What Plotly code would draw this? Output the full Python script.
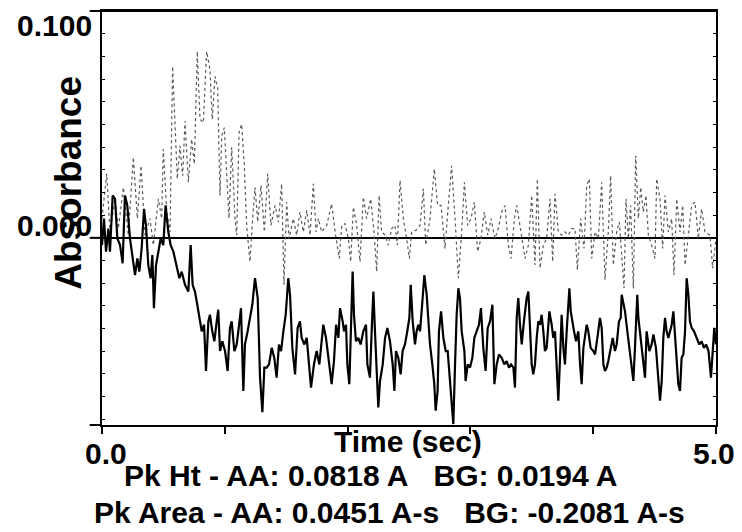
import plotly.graph_objects as go

# ---- data ----
aa_time = [0.000, 0.038, 0.065, 0.106, 0.133, 0.174, 0.214, 0.255, 0.288, 0.318, 0.350, 0.391, 0.418, 0.459,
           0.486, 0.499, 0.527, 0.554, 0.575, 0.613, 0.635, 0.657, 0.676, 0.703, 0.730, 0.752, 0.776, 0.798,
           0.825, 0.852, 0.879, 0.898, 0.920, 0.942, 0.961, 0.975, 0.996, 1.015, 1.034, 1.056, 1.083, 1.097,
           1.116, 1.137, 1.159, 1.178, 1.205, 1.227, 1.246, 1.268, 1.295, 1.322, 1.349, 1.376, 1.409, 1.436,
           1.463, 1.482, 1.504, 1.523, 1.558, 1.585, 1.612, 1.640, 1.667, 1.694, 1.721, 1.743, 1.762, 1.789,
           1.830, 1.870, 1.906, 1.933, 1.952, 1.979, 2.006, 2.025, 2.047, 2.074, 2.101, 2.128, 2.155, 2.188,
           2.215, 2.237, 2.256, 2.277, 2.305, 2.332, 2.359, 2.386, 2.405, 2.427, 2.454, 2.481, 2.503, 2.522,
           2.557, 2.590, 2.617, 2.636, 2.671, 2.706, 2.733, 2.761, 2.793, 2.820, 2.847, 2.875, 2.902, 2.929,
           2.951, 2.978, 3.005, 3.032, 3.059, 3.086, 3.113, 3.141, 3.168, 3.200, 3.227, 3.255, 3.282, 3.309,
           3.331, 3.358, 3.377, 3.412, 3.445, 3.472, 3.499, 3.526, 3.545, 3.567, 3.594, 3.621, 3.648, 3.670,
           3.689, 3.716, 3.743, 3.770, 3.797, 3.825, 3.852, 3.871, 3.898, 3.925, 3.947, 3.969, 3.988, 4.015,
           4.042, 4.069, 4.096, 4.123, 4.142, 4.164, 4.191, 4.213, 4.251, 4.267, 4.286, 4.305, 4.327, 4.346,
           4.368, 4.387, 4.408, 4.430, 4.449, 4.476, 4.503, 4.517, 4.544, 4.566, 4.585, 4.612, 4.639, 4.658,
           4.680, 4.707, 4.729, 4.748, 4.775, 4.802, 4.829, 4.856, 4.883, 4.910, 4.951, 4.973, 5.000]
aa_abs = [0.0085, 0.0282, 0.0026, 0.0172, 0.0041, 0.0223, 0.0012, 0.0355, 0.0085, 0.0318, 0.0012, 0.0085, -0.0032,
          0.0172, 0.0085, 0.0391, 0.0114, 0.0026, 0.0756, 0.0260, 0.0406, 0.0274, 0.0515, 0.0245, 0.0435, 0.0326,
          0.0822, 0.0523, 0.0508, 0.0822, 0.0742, 0.0523, 0.0712, 0.0661, 0.0187, 0.0450, 0.0486, 0.0289, 0.0085,
          0.0399, 0.0085, 0.0012, 0.0464, 0.0501, 0.0318, 0.0055, -0.0105, 0.0085, 0.0223, 0.0070, 0.0231, 0.0026,
          0.0282, 0.0055, 0.0143, 0.0070, 0.0238, -0.0207, 0.0158, -0.0003, 0.0085, 0.0012, 0.0114, 0.0026, 0.0121,
          0.0012, 0.0238, 0.0026, 0.0085, 0.0026, 0.0055, 0.0150, -0.0003, -0.0091, 0.0055, 0.0063, -0.0003,
          -0.0105, 0.0136, 0.0055, -0.0105, 0.0180, 0.0085, 0.0172, 0.0026, -0.0149, 0.0187, 0.0026, 0.0012,
          -0.0032, 0.0041, 0.0055, -0.0032, 0.0253, 0.0085, -0.0003, -0.0091, 0.0026, 0.0034, 0.0055, 0.0216,
          -0.0032, 0.0085, 0.0304, 0.0143, 0.0143, -0.0047, 0.0143, 0.0318, 0.0085, -0.0178, 0.0026, 0.0245,
          0.0055, 0.0085, 0.0158, -0.0061, -0.0003, 0.0114, 0.0012, 0.0085, -0.0003, 0.0041, 0.0114, 0.0143,
          -0.0032, -0.0091, 0.0085, 0.0143, 0.0026, -0.0091, -0.0032, 0.0187, -0.0120, 0.0260, -0.0134, -0.0032,
          -0.0003, 0.0172, -0.0105, 0.0194, 0.0026, 0.0012, 0.0026, 0.0012, 0.0041, 0.0041, -0.0142, 0.0085,
          -0.0047, 0.0231, 0.0260, -0.0091, 0.0026, -0.0003, 0.0245, -0.0185, 0.0026, 0.0274, -0.0120, 0.0026,
          0.0070, -0.0222, 0.0172, -0.0003, 0.0143, -0.0222, 0.0362, 0.0085, 0.0223, 0.0114, 0.0187, 0.0012,
          -0.0032, -0.0091, 0.0260, 0.0172, -0.0047, 0.0187, 0.0026, 0.0085, -0.0164, 0.0172, 0.0026, 0.0143,
          -0.0120, 0.0012, 0.0143, 0.0158, -0.0003, 0.0128, 0.0026, 0.0012, -0.0134, -0.0003]

bg_time = [0.000, 0.016, 0.033, 0.052, 0.065, 0.087, 0.106, 0.125, 0.147, 0.168, 0.187, 0.206, 0.228, 0.255,
           0.269, 0.288, 0.304, 0.323, 0.342, 0.358, 0.377, 0.396, 0.410, 0.423, 0.440, 0.459, 0.478, 0.499,
           0.518, 0.540, 0.559, 0.581, 0.608, 0.630, 0.649, 0.676, 0.703, 0.722, 0.738, 0.757, 0.776, 0.793,
           0.812, 0.831, 0.847, 0.866, 0.879, 0.898, 0.915, 0.934, 0.947, 0.961, 0.980, 1.002, 1.023, 1.042,
           1.056, 1.078, 1.097, 1.110, 1.132, 1.151, 1.164, 1.186, 1.205, 1.224, 1.246, 1.268, 1.287, 1.306,
           1.322, 1.341, 1.360, 1.382, 1.403, 1.422, 1.441, 1.458, 1.477, 1.496, 1.517, 1.531, 1.550, 1.572,
           1.593, 1.612, 1.626, 1.648, 1.667, 1.680, 1.702, 1.726, 1.748, 1.770, 1.802, 1.824, 1.851, 1.870,
           1.889, 1.906, 1.925, 1.938, 1.960, 1.971, 1.987, 1.998, 2.014, 2.025, 2.041, 2.052, 2.068, 2.087,
           2.106, 2.128, 2.150, 2.161, 2.182, 2.199, 2.210, 2.223, 2.237, 2.250, 2.264, 2.286, 2.305, 2.324,
           2.345, 2.367, 2.381, 2.394, 2.413, 2.432, 2.448, 2.467, 2.486, 2.503, 2.514, 2.530, 2.549, 2.562,
           2.576, 2.590, 2.609, 2.625, 2.644, 2.657, 2.671, 2.690, 2.706, 2.717, 2.733, 2.744, 2.761, 2.780,
           2.799, 2.815, 2.834, 2.847, 2.861, 2.875, 2.888, 2.902, 2.915, 2.929, 2.951, 2.961, 2.978, 2.997,
           3.016, 3.032, 3.051, 3.070, 3.086, 3.105, 3.124, 3.141, 3.160, 3.179, 3.195, 3.214, 3.233, 3.255,
           3.276, 3.295, 3.314, 3.331, 3.350, 3.363, 3.377, 3.390, 3.404, 3.418, 3.436, 3.458, 3.472, 3.485,
           3.499, 3.512, 3.526, 3.540, 3.553, 3.567, 3.580, 3.594, 3.607, 3.621, 3.643, 3.662, 3.675, 3.689,
           3.703, 3.716, 3.730, 3.743, 3.757, 3.770, 3.784, 3.806, 3.817, 3.833, 3.844, 3.860, 3.879, 3.893,
           3.906, 3.920, 3.933, 3.947, 3.960, 3.979, 4.001, 4.015, 4.034, 4.055, 4.069, 4.083, 4.096, 4.110,
           4.123, 4.137, 4.159, 4.177, 4.191, 4.210, 4.224, 4.232, 4.245, 4.259, 4.278, 4.294, 4.313, 4.327,
           4.340, 4.359, 4.368, 4.387, 4.403, 4.422, 4.435, 4.457, 4.476, 4.490, 4.511, 4.530, 4.544, 4.558,
           4.571, 4.585, 4.598, 4.612, 4.625, 4.639, 4.653, 4.666, 4.680, 4.693, 4.707, 4.720, 4.734, 4.748,
           4.761, 4.775, 4.788, 4.802, 4.821, 4.843, 4.864, 4.883, 4.902, 4.919, 4.939, 4.959, 4.975, 4.986,
           5.000]
bg_abs = [-0.0032, 0.0085, -0.0061, 0.0041, -0.0061, 0.0187, 0.0172, -0.0003, -0.0032, -0.0112, 0.0187, 0.0143,
          -0.0003, -0.0120, -0.0164, -0.0091, -0.0149, -0.0047, 0.0128, 0.0055, -0.0120, -0.0178, -0.0076, -0.0310,
          -0.0120, -0.0061, -0.0003, -0.0032, 0.0143, 0.0026, -0.0032, -0.0061, -0.0120, -0.0178, -0.0149, -0.0207,
          -0.0237, -0.0032, -0.0207, -0.0237, -0.0295, -0.0353, -0.0412, -0.0383, -0.0587, -0.0368, -0.0339,
          -0.0412, -0.0456, -0.0368, -0.0317, -0.0499, -0.0456, -0.0499, -0.0587, -0.0397, -0.0368, -0.0499,
          -0.0470, -0.0412, -0.0310, -0.0675, -0.0470, -0.0412, -0.0353, -0.0295, -0.0178, -0.0266, -0.0616,
          -0.0769, -0.0572, -0.0572, -0.0558, -0.0485, -0.0529, -0.0616, -0.0470, -0.0499, -0.0412, -0.0339,
          -0.0178, -0.0251, -0.0485, -0.0602, -0.0397, -0.0368, -0.0441, -0.0470, -0.0441, -0.0529, -0.0660,
          -0.0558, -0.0499, -0.0558, -0.0383, -0.0441, -0.0558, -0.0645, -0.0543, -0.0383, -0.0441, -0.0310,
          -0.0368, -0.0412, -0.0383, -0.0558, -0.0645, -0.0412, -0.0149, -0.0339, -0.0456, -0.0441, -0.0470,
          -0.0412, -0.0383, -0.0558, -0.0616, -0.0368, -0.0237, -0.0412, -0.0558, -0.0748, -0.0631, -0.0558,
          -0.0441, -0.0397, -0.0456, -0.0558, -0.0675, -0.0499, -0.0529, -0.0602, -0.0499, -0.0470, -0.0412,
          -0.0353, -0.0207, -0.0368, -0.0470, -0.0412, -0.0383, -0.0412, -0.0280, -0.0164, -0.0251, -0.0383,
          -0.0470, -0.0558, -0.0645, -0.0762, -0.0675, -0.0412, -0.0324, -0.0441, -0.0499, -0.0499, -0.0645,
          -0.0733, -0.0821, -0.0558, -0.0339, -0.0222, -0.0266, -0.0412, -0.0499, -0.0631, -0.0558, -0.0572,
          -0.0529, -0.0441, -0.0412, -0.0383, -0.0310, -0.0485, -0.0587, -0.0397, -0.0368, -0.0295, -0.0645,
          -0.0558, -0.0514, -0.0529, -0.0558, -0.0543, -0.0572, -0.0558, -0.0572, -0.0660, -0.0353, -0.0266,
          -0.0383, -0.0470, -0.0368, -0.0266, -0.0237, -0.0412, -0.0558, -0.0602, -0.0558, -0.0441, -0.0368,
          -0.0383, -0.0339, -0.0412, -0.0499, -0.0485, -0.0324, -0.0383, -0.0441, -0.0412, -0.0558, -0.0718,
          -0.0529, -0.0339, -0.0485, -0.0558, -0.0412, -0.0222, -0.0324, -0.0383, -0.0412, -0.0456, -0.0412,
          -0.0558, -0.0645, -0.0485, -0.0441, -0.0383, -0.0412, -0.0485, -0.0499, -0.0514, -0.0441, -0.0353,
          -0.0397, -0.0558, -0.0587, -0.0572, -0.0543, -0.0499, -0.0441, -0.0499, -0.0470, -0.0368, -0.0353,
          -0.0251, -0.0295, -0.0324, -0.0412, -0.0485, -0.0558, -0.0631, -0.0485, -0.0251, -0.0353, -0.0441,
          -0.0529, -0.0616, -0.0412, -0.0499, -0.0470, -0.0426, -0.0485, -0.0602, -0.0718, -0.0631, -0.0441,
          -0.0353, -0.0412, -0.0441, -0.0412, -0.0383, -0.0324, -0.0441, -0.0558, -0.0645, -0.0675, -0.0529,
          -0.0514, -0.0412, -0.0178, -0.0251, -0.0368, -0.0397, -0.0412, -0.0441, -0.0470, -0.0456, -0.0485,
          -0.0470, -0.0499, -0.0616, -0.0499, -0.0397, -0.0470]

# axis / labels
x_range = [0.0, 5.0]
y_range = [-0.0825, 0.100]
x_label_vals = [0.0, 5.0]
x_label_text = ["0.0", "5.0"]
y_label_vals = [0.100, 0.0]
y_label_text = ["0.100", "0.000"]
x_title = "Time (sec)"
y_title = "Absorbance"

# peak statistics printed under the chart
pk_ht_aa, pk_ht_bg = 0.0818, 0.0194
pk_area_aa, pk_area_bg = 0.0451, -0.2081

FONT = "Liberation Sans, Arial, Helvetica, sans-serif"
NB = "\u00a0"

fig = go.Figure()
fig.add_trace(go.Scatter(x=aa_time, y=aa_abs, mode="lines", name="AA",
                         line=dict(color="#5a5a5a", width=1.2, dash="dot")))
fig.add_trace(go.Scatter(x=bg_time, y=bg_abs, mode="lines", name="BG",
                         line=dict(color="#000000", width=2.2)))

ann = []
# y tick labels
ann.append(dict(x=0, xref="paper", y=y_label_vals[0], yref="y", text="<b>%s</b>" % y_label_text[0],
                xanchor="right", yanchor="middle", xshift=-8, yshift=-14, showarrow=False))
ann.append(dict(x=0, xref="paper", y=y_label_vals[1], yref="y", text="<b>%s</b>" % y_label_text[1],
                xanchor="right", yanchor="middle", xshift=-8, yshift=12, showarrow=False))
# x tick labels
ann.append(dict(x=x_label_vals[0], xref="x", y=0, yref="paper", text="<b>%s</b>" % x_label_text[0],
                xanchor="center", yanchor="middle", xshift=4, yshift=-28, showarrow=False))
ann.append(dict(x=x_label_vals[1], xref="x", y=0, yref="paper", text="<b>%s</b>" % x_label_text[1],
                xanchor="center", yanchor="middle", xshift=-2, yshift=-28, showarrow=False))
# axis titles
ann.append(dict(x=0.498, xref="paper", y=0, yref="paper", text="<b>%s</b>" % x_title,
                xanchor="center", yanchor="middle", yshift=-16, showarrow=False))
ann.append(dict(x=0, xref="paper", y=0.585, yref="paper", text="<b>%s</b>" % y_title, textangle=-90,
                xanchor="center", yanchor="middle", xshift=-33, showarrow=False, font=dict(size=37)))
# statistics lines
line1 = "Pk Ht - AA: %.4f A%sBG: %.4f A" % (pk_ht_aa, NB * 2 + " ", pk_ht_bg)
line2 = "Pk Area - AA: %.4f A-s%sBG: %.4f A-s" % (pk_area_aa, NB * 2 + " ", pk_area_bg)
ann.append(dict(x=0.438, xref="paper", y=0, yref="paper", text="<b>%s</b>" % line1,
                xanchor="center", yanchor="middle", yshift=-50, showarrow=False))
ann.append(dict(x=0.469, xref="paper", y=0, yref="paper", text="<b>%s</b>" % line2,
                xanchor="center", yanchor="middle", yshift=-87, showarrow=False))

shapes = [
    # frame line across the top and short extensions of the frame lines to the left, as in the printout
    dict(type="line", xref="paper", yref="paper", x0=-0.02, x1=1, y0=1, y1=1, layer="above",
         line=dict(color="black", width=2)),
    dict(type="line", xref="paper", yref="y", x0=-0.02, x1=0, y0=0, y1=0, line=dict(color="black", width=2)),
    dict(type="line", xref="paper", yref="paper", x0=-0.02, x1=0, y0=0, y1=0, line=dict(color="black", width=2)),
]

# the page body adds an 8 px offset, so the figure is 8 px smaller each way
fig.update_layout(
    width=734, height=524,
    margin=dict(l=94, r=26, t=3, b=107, autoexpand=False),
    paper_bgcolor="white", plot_bgcolor="white",
    showlegend=False,
    font=dict(family=FONT, size=30, color="black"),
    annotations=ann, shapes=shapes,
    xaxis=dict(range=x_range, showgrid=False, zeroline=False, showline=True, linecolor="black", linewidth=2,
               mirror=True, ticks="outside", tickvals=[0, 1, 2, 3, 4, 5], ticklen=7, tickwidth=1.5,
               tickcolor="black", showticklabels=False, automargin=False),
    yaxis=dict(range=y_range, showgrid=False, zeroline=True, zerolinecolor="black", zerolinewidth=2,
               showline=True, linecolor="black", linewidth=2, mirror="allticks", ticks="inside",
               tick0=0, dtick=0.01, ticklen=3, tickwidth=1, tickcolor="black", showticklabels=False,
               automargin=False),
)

fig.write_html("out.html")
